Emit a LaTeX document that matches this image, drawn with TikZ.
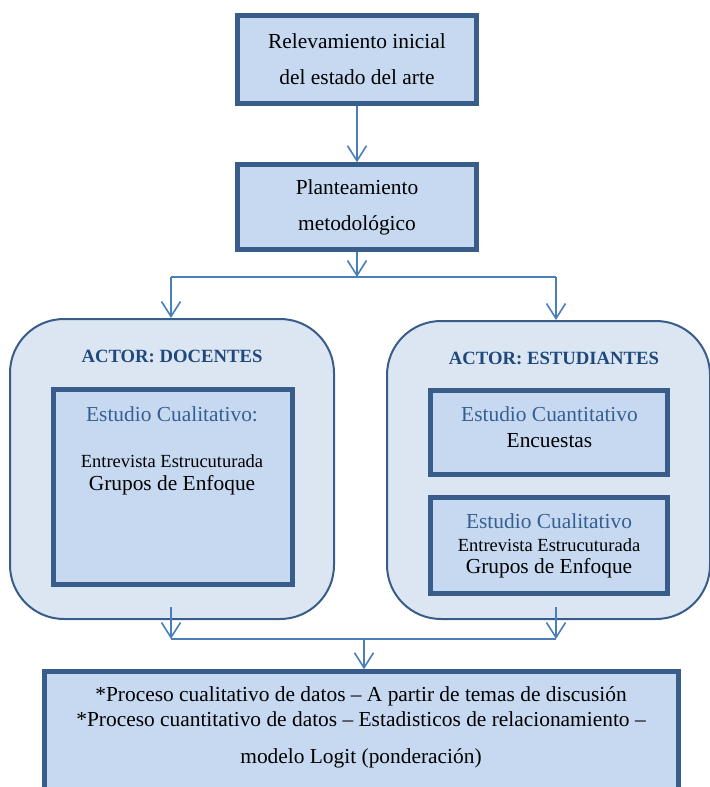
\documentclass[tikz,border=0pt]{standalone}
\usepackage{fontspec}
\setmainfont{Liberation Serif}
\usetikzlibrary{arrows.meta, positioning}

\definecolor{borde}{RGB}{56,93,138}
\definecolor{relleno}{RGB}{198,217,241}
\definecolor{fondo}{RGB}{220,230,242}
\definecolor{azulflecha}{RGB}{74,126,187}
\definecolor{azultitulo}{RGB}{31,73,125}
\definecolor{azulestudio}{RGB}{54,95,145}

\begin{document}
\begin{tikzpicture}[x=0.5pt, y=-0.5pt,
		etapa/.style={draw=borde, fill=relleno, line width=2.25pt, inner sep=0pt, align=center, font=\fontsize{10.7}{17.9}\selectfont},
		actor/.style={draw=borde, fill=fondo, line width=1pt, rounded corners=27pt, inner sep=0pt},
		titulo/.style={anchor=base, text=azultitulo, font=\fontsize{9.35}{11}\selectfont\bfseries},
		estudio/.style={anchor=base, text=azulestudio, font=\fontsize{10.7}{12}\selectfont},
		renglon/.style={anchor=base, font=\fontsize{10.7}{12}\selectfont},
		renglonchico/.style={anchor=base, font=\fontsize{9.25}{11}\selectfont},
		flecha/.style={draw=azulflecha, line width=0.8pt, -{Straight Barb[length=7.5pt, width=9.5pt]}},
		union/.style={draw=azulflecha, line width=0.8pt}]
					\clip (0,0) rectangle (710,787);

					\node[etapa, minimum width=119.5pt, minimum height=44pt] (relev) at (357,59.5) {Relevamiento inicial\\del estado del arte};
					\node[etapa, minimum width=119.5pt, minimum height=42.5pt] (plant) at (357,207) {Planteamiento\\metodológico};

					%% actores
					\node[actor, minimum width=162pt, minimum height=150pt] (docentes) at (172,469) {};
					\node[actor, minimum width=161.5pt, minimum height=149pt] (estud) at (548.5,470) {};
					\node[titulo] (tdoc) at (172,362) {ACTOR: DOCENTES};
					\node[titulo] (test) at (554,364) {ACTOR: ESTUDIANTES};

					\node[etapa, minimum width=119.5pt, minimum height=97.5pt] (cualdoc) at (173,487) {};
					\node[estudio] (cualdoc1) at (172,421) {Estudio Cualitativo:};
					\node[renglonchico] (cualdoc2) at (172,467) {Entrevista Estrucuturada};
					\node[renglon] (cualdoc3) at (172,490) {Grupos de Enfoque};

					\node[etapa, minimum width=118.5pt, minimum height=42pt] (cuant) at (549,432.5) {};
					\node[estudio] (cuant1) at (549.5,421) {Estudio Cuantitativo};
					\node[renglon] (cuant2) at (549.5,447) {Encuestas};

					\node[etapa, minimum width=118.5pt, minimum height=48pt] (cualest) at (549,545.5) {};
					\node[estudio] (cualest1) at (549,528) {Estudio Cualitativo};
					\node[renglonchico] (cualest2) at (549,551) {Entrevista Estrucuturada};
					\node[renglon] (cualest3) at (549,573) {Grupos de Enfoque};

					%% proceso final
					\node[etapa, minimum width=317pt, minimum height=84.25pt] (proceso) at (361.5,755.75) {};
					\node[renglon] (proc1) at (361,701.7) {*Proceso cualitativo de datos -- A partir de temas de discusión};
					\node[renglon] (proc2) at (361,726.7) {*Proceso cuantitativo de datos -- Estadisticos de relacionamiento --};
					\node[renglon] (proc3) at (361,763) {modelo Logit (ponderación)};

					\coordinate (cruce) at (357,277);
					\coordinate (izq) at (171,277);
					\coordinate (der) at (556,277);
					\coordinate (bajaizq) at (171,607);
					\coordinate (bajader) at (556,607);
					\coordinate (juntaizq) at (171,639);
					\coordinate (juntader) at (556,639);
					\coordinate (juntamed) at (364,639);

					\draw[flecha] (relev) -- (plant);
					\draw[flecha] (plant) -- (cruce);
					\draw[union] (izq) -- (der);
					\draw[flecha] (izq) -- (izq |- docentes.north);
					\draw[flecha] (der) -- (der |- estud.north);

					\draw[flecha] (bajaizq) -- (juntaizq);
					\draw[flecha] (bajader) -- (juntader);
					\draw[union] (juntaizq) -- (juntader);
					\draw[flecha] (juntamed) -- (juntamed |- proceso.north);
				\end{tikzpicture}
\end{document}
